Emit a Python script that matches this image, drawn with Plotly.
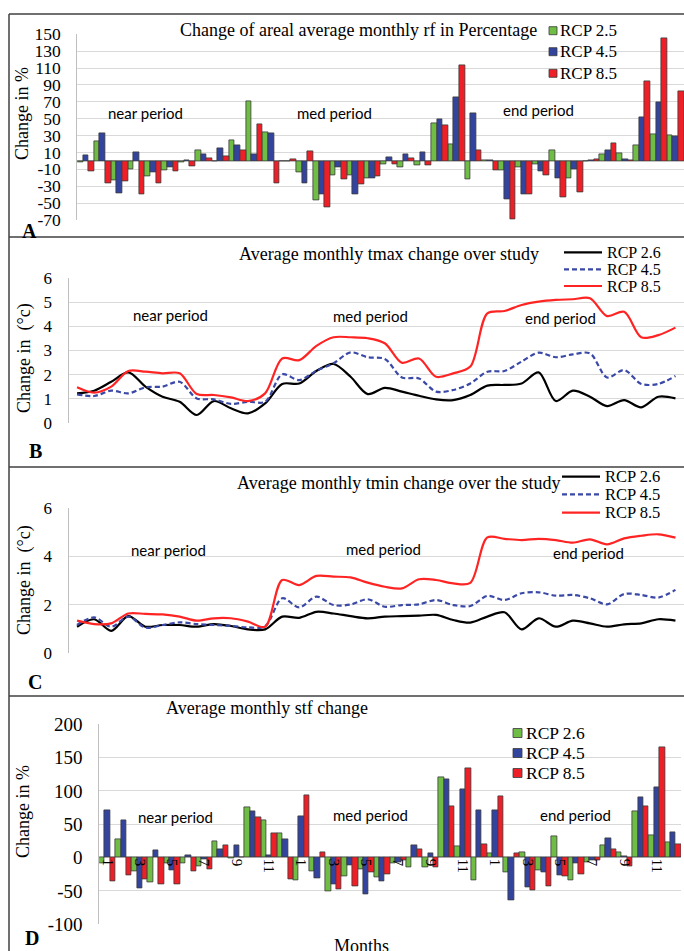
import plotly.graph_objects as go

W, H = 684, 951


def px(x):
    return x / W


def py(y):
    return 1 - y / H


# ---------------- data ----------------
months = list(range(1, 13))
periods = ["near period", "med period", "end period"]
cats = list(range(36))  # 3 periods x 12 months
tick_months = [1, 3, 5, 7, 9, 11]

rf_ticks = list(range(-70, 151, 20))
stf_ticks = list(range(-100, 201, 50))
tmax_ticks = [0, 1, 2, 3, 4, 5, 6]
tmin_ticks = [0, 2, 4, 6]

# Panel A: change of areal average monthly rainfall (%)
rf_rcp26_near = [-1.5, 23, -23, -10, -18, -11, -2, 13, -1, 25, 71, 34]
rf_rcp26_med = [-0.5, -14, -47, -17, -17, -20, -3.5, -8, -5, 45, 20, -22]
rf_rcp26_end = [0.3, -11, -7, -4, 13, -21, -0.3, 8, 9.5, 19, 31, 30]
rf_rcp45_near = [7, 33, -38, 10, -13, -8, 1, 8, 15, 19, 8, 33]
rf_rcp45_med = [-1, -27, -39, -7, -39.5, -21, 4, 7.5, 10, 49, 75, 57]
rf_rcp45_end = [0.3, -46, -40, -12, -20, -10, 0.5, 12, 2, 52, 69, 29]
rf_rcp85_near = [-12, -27, -24, -39, -27, -12, -6, 3.5, 5, 12, 43, -27]
rf_rcp85_med = [2, 11, -55, -22, -28, -18, -3.5, 3, -5, 42, 113, 12]
rf_rcp85_end = [-11, -69, -40, -16.5, -43.5, -37, 2, 21, 0.3, 94, 145, 83]

# Panel B: average monthly tmax change (°C)
tmax_rcp26 = [1.22, 1.33, 1.70, 2.09, 1.50, 1.08, 0.87, 0.32, 0.90, 0.60, 0.39, 0.80,
              1.61, 1.63, 2.15, 2.44, 1.91, 1.19, 1.45, 1.29, 1.12, 0.97, 0.94, 1.15,
              1.54, 1.57, 1.63, 2.09, 0.90, 1.33, 1.08, 0.69, 0.94, 0.64, 1.08, 1.01]
tmax_rcp45 = [1.18, 1.11, 1.33, 1.22, 1.47, 1.50, 1.70, 1.01, 0.97, 0.78, 0.87, 0.87,
              2.01, 1.77, 2.16, 2.47, 2.92, 2.72, 2.65, 1.88, 1.84, 1.29, 1.36, 1.63,
              2.12, 2.15, 2.54, 2.91, 2.72, 2.84, 2.88, 1.88, 2.19, 1.61, 1.61, 1.94]
tmax_rcp85 = [1.47, 1.25, 1.50, 2.15, 2.12, 2.05, 2.05, 1.19, 1.15, 1.05, 0.90, 1.22,
              2.67, 2.60, 3.19, 3.55, 3.55, 3.51, 3.30, 2.49, 2.67, 1.91, 2.05, 2.33,
              4.54, 4.64, 4.89, 5.03, 5.10, 5.13, 5.17, 4.43, 4.61, 3.55, 3.64, 3.95]

# Panel C: average monthly tmin change (°C)
tmin_rcp26 = [1.08, 1.39, 0.91, 1.52, 1.08, 1.15, 1.15, 1.08, 1.19, 1.11, 0.97, 0.97,
              1.50, 1.45, 1.70, 1.63, 1.52, 1.43, 1.50, 1.52, 1.54, 1.57, 1.36, 1.25,
              1.50, 1.68, 0.97, 1.43, 1.08, 1.33, 1.22, 1.08, 1.18, 1.22, 1.39, 1.33]
tmin_rcp45 = [1.15, 1.47, 1.08, 1.50, 1.04, 1.15, 1.26, 1.19, 1.15, 1.11, 1.05, 1.10,
              2.26, 1.88, 2.33, 1.98, 2.00, 2.22, 1.91, 1.98, 2.01, 2.19, 1.98, 1.94,
              2.36, 2.19, 2.47, 2.51, 2.37, 2.40, 2.26, 2.01, 2.44, 2.40, 2.29, 2.61]
tmin_rcp85 = [1.33, 1.19, 1.22, 1.63, 1.61, 1.59, 1.50, 1.33, 1.43, 1.43, 1.29, 1.08,
              3.02, 2.81, 3.19, 3.16, 3.13, 2.91, 2.74, 2.67, 3.05, 3.02, 2.88, 2.90,
              4.79, 4.73, 4.68, 4.73, 4.68, 4.57, 4.71, 4.50, 4.75, 4.86, 4.92, 4.78]

# Panel D: average monthly streamflow change (%)
stf_rcp26_near = [-8.5, 27.5, -21, -37, -8.5, -8.5, -12.5, 24, -1, 75, 55.5, 36]
stf_rcp26_med = [-33.5, -20, -50.5, -27.5, -17.5, -29, -8.5, -14, -15, 120, 17.5, -34]
stf_rcp26_end = [6.5, -22.5, 7.5, -18.5, 31.5, -34, -6.5, 19, 8.5, 70, 34, 23.5]
stf_rcp45_near = [70.5, 56.5, -46, 11, -18.5, 3.5, -2, 12.5, 18.5, 69.5, 3.5, 27.5]
stf_rcp45_med = [61.5, -31.5, -39.5, -11, -55, -35, -7.5, 19, 6, 117.5, 102.5, 71]
stf_rcp45_end = [71, -64, -45, -22.5, -26.5, -8.5, -4, 29, 1.5, 91, 106, 37.5]
stf_rcp85_near = [-35, -26.5, -32, -40, -40, -20, -18, 18.5, 1, 60, 36, -32.5]
stf_rcp85_med = [94, 8, -47, -43.5, -22.5, -25, -4, 12.5, -14, 77.5, 134, 20]
stf_rcp85_end = [92.5, 6.5, -48.5, -42.5, -27.5, -25, -3.5, 12.5, -13.5, 77.5, 166, 20]

rf_rcp26 = rf_rcp26_near + rf_rcp26_med + rf_rcp26_end
rf_rcp45 = rf_rcp45_near + rf_rcp45_med + rf_rcp45_end
rf_rcp85 = rf_rcp85_near + rf_rcp85_med + rf_rcp85_end
stf_rcp26 = stf_rcp26_near + stf_rcp26_med + stf_rcp26_end
stf_rcp45 = stf_rcp45_near + stf_rcp45_med + stf_rcp45_end
stf_rcp85 = stf_rcp85_near + stf_rcp85_med + stf_rcp85_end

# ---------------- styles ----------------
GREEN = "#6fbd45"
BLUE = "#33449e"
RED = "#ee1f26"
LRED = "#ff2424"
LBLUE = "#3a48a6"
OUT = "#3a3a3a"
GRID = "#d9d9d9"
AXL = "#bfbfbf"
SERIF = "Liberation Serif"
SANS = "Lato"
DASH = "5px,3px"

fig = go.Figure()


def bars(y, name, color, xa, ya):
    fig.add_trace(go.Bar(
        x=cats, y=y, name=name, xaxis=xa, yaxis=ya, showlegend=False,
        marker=dict(color=color, line=dict(color=OUT, width=0.8)),
    ))


def line(y, name, color, dash, xa, ya):
    fig.add_trace(go.Scatter(
        x=cats, y=y, name=name, mode="lines", xaxis=xa, yaxis=ya, showlegend=False,
        line=dict(color=color, width=2.2, dash=dash, shape="spline", smoothing=0.9),
    ))


bars(rf_rcp26, "RCP 2.5", GREEN, "x", "y")
bars(rf_rcp45, "RCP 4.5", BLUE, "x", "y")
bars(rf_rcp85, "RCP 8.5", RED, "x", "y")

line(tmax_rcp26, "RCP 2.6", "#000000", "solid", "x2", "y2")
line(tmax_rcp45, "RCP 4.5", LBLUE, DASH, "x2", "y2")
line(tmax_rcp85, "RCP 8.5", LRED, "solid", "x2", "y2")

line(tmin_rcp26, "RCP 2.6", "#000000", "solid", "x3", "y3")
line(tmin_rcp45, "RCP 4.5", LBLUE, DASH, "x3", "y3")
line(tmin_rcp85, "RCP 8.5", LRED, "solid", "x3", "y3")

bars(stf_rcp26, "RCP 2.6", GREEN, "x4", "y4")
bars(stf_rcp45, "RCP 4.5", BLUE, "x4", "y4")
bars(stf_rcp85, "RCP 8.5", RED, "x4", "y4")


def xax(domain, anchor, **kw):
    d = dict(domain=domain, range=[-0.5, 35.5], anchor=anchor, showgrid=False,
             zeroline=False, showticklabels=False, ticks="", showline=False,
             fixedrange=True)
    d.update(kw)
    return d


def yax(domain, anchor, rng, vals, size=18, zl=False):
    return dict(domain=domain, range=rng, anchor=anchor, tickmode="array",
                tickvals=vals, ticktext=[str(v) for v in vals],
                showgrid=True, gridcolor=GRID, gridwidth=1,
                showline=True, linecolor=AXL, linewidth=1, ticks="",
                zeroline=zl, zerolinecolor=AXL, zerolinewidth=1,
                tickfont=dict(family=SERIF, size=size, color="#000"),
                ticklabelstandoff=12, fixedrange=True)


d_y4 = [py(924.3), py(724.3)]
zero_pos = d_y4[0] + (0 - (-100)) / 300 * (d_y4[1] - d_y4[0])

fig.update_layout(
    width=W, height=H, margin=dict(l=0, r=0, t=0, b=0),
    paper_bgcolor="white", plot_bgcolor="white", template="none",
    barmode="group", bargap=0, bargroupgap=0, showlegend=False,
    xaxis=xax([px(77.3), 1], "y"),
    yaxis=yax([py(220), py(34.3)], "x", [-70, 150], rf_ticks, 17.5, zl=True),
    xaxis2=xax([px(68.5), 1], "y2"),
    yaxis2=yax([py(422.7), py(278.3)], "x2", [0, 6], tmax_ticks, 17),
    xaxis3=xax([px(68.5), 1], "y3"),
    yaxis3=yax([py(652.7), py(508.3)], "x3", [0, 6], tmin_ticks, 17),
    xaxis4=xax([px(99.3), px(681)], "free", position=zero_pos,
               showticklabels=True, tickmode="array",
               tickvals=[p * 12 + m - 1 for p in range(3) for m in tick_months],
               ticktext=[str(m) for p in range(3) for m in tick_months],
               tickangle=90, tickfont=dict(family=SERIF, size=15, color="#000")),
    yaxis4=yax(d_y4, "x4", [-100, 200], stf_ticks, 19),
)

ann = []
shapes = []


def text(x, y, s, size, family=SERIF, angle=0, bold=False, xanchor="center"):
    ann.append(dict(x=px(x), y=py(y), xref="paper", yref="paper", text=s,
                    showarrow=False, textangle=angle, xanchor=xanchor,
                    yanchor="middle", borderpad=0,
                    font=dict(family=family, size=size, color="#000",
                              weight="bold" if bold else "normal")))


# titles
text(358.5, 30, "Change of areal average monthly rf in Percentage", 18)
text(389, 254, "Average monthly tmax change over study", 18)
text(399, 483, "Average monthly tmin change over the study", 18)
text(267, 708, "Average monthly stf change", 18)

# y-axis titles
text(22, 114, "Change in %", 18, angle=-90)
text(24, 358, "Change in  (°c)", 18, angle=-90)
text(24, 580, "Change in  (°c)", 18, angle=-90)
text(23, 812, "Change in %", 18, angle=-90)

# period labels
for (x, y), s in zip([(145, 113), (334, 113), (538, 110)], periods):
    text(x, y, s, 15, family=SANS)
for (x, y), s in zip([(170, 315), (370, 316), (560, 318)], periods):
    text(x, y, s, 15, family=SANS)
for (x, y), s in zip([(168, 550), (383, 549), (588, 553)], periods):
    text(x, y, s, 15, family=SANS)
for (x, y), s in zip([(175, 817), (370, 815), (575, 815)], periods):
    text(x, y, s, 15, family=SANS)

# panel letters
text(29, 231, "A", 20, bold=True)
text(35, 451, "B", 20, bold=True)
text(35, 682, "C", 20, bold=True)
text(32, 938, "D", 20, bold=True)

# x-axis title of panel D
text(361, 946, "Months", 18)


# legends (drawn in paper space)
def sq_legend(x0, size, tx, rows, names, colors, fs):
    for yy, nm, c in zip(rows, names, colors):
        shapes.append(dict(type="rect", xref="paper", yref="paper",
                           x0=px(x0), x1=px(x0 + size),
                           y0=py(yy + size / 2), y1=py(yy - size / 2),
                           fillcolor=c, line=dict(color=OUT, width=0.8)))
        text(tx, yy, nm, fs, xanchor="left")


def ln_legend(x0, x1, tx, rows, names, colors, dashes, fs):
    for yy, nm, c, d in zip(rows, names, colors, dashes):
        shapes.append(dict(type="line", xref="paper", yref="paper",
                           x0=px(x0), x1=px(x1), y0=py(yy), y1=py(yy),
                           line=dict(color=c, width=2.2, dash=d)))
        text(tx, yy, nm, fs, xanchor="left")


sq_legend(549, 8, 559, [30.7, 51.7, 73.3], ["RCP 2.5", "RCP 4.5", "RCP 8.5"],
          [GREEN, BLUE, RED], 17)
ln_legend(564, 602, 606, [252.3, 269.3, 286], ["RCP 2.6", "RCP 4.5", "RCP 8.5"],
          ["#000000", LBLUE, LRED], ["solid", DASH, "solid"], 16)
ln_legend(562, 600, 604, [476.7, 494.3, 512.7], ["RCP 2.6", "RCP 4.5", "RCP 8.5"],
          ["#000000", LBLUE, LRED], ["solid", DASH, "solid"], 16.5)
sq_legend(513, 9, 525, [733, 753, 773], ["RCP 2.6", "RCP 4.5", "RCP 8.5"],
          [GREEN, BLUE, RED], 17.5)

# panel frames
for yy in [14, 237, 467, 696]:
    shapes.append(dict(type="line", xref="paper", yref="paper", x0=px(9), x1=1,
                       y0=py(yy), y1=py(yy), line=dict(color="#404040", width=1.5)))
shapes.append(dict(type="line", xref="paper", yref="paper", x0=px(9), x1=px(9),
                   y0=py(14), y1=0, line=dict(color="#404040", width=1.5)))

fig.update_layout(annotations=ann, shapes=shapes)

fig.write_html("out.html", config={"displayModeBar": False},
               post_script="document.body.style.margin='0';")
